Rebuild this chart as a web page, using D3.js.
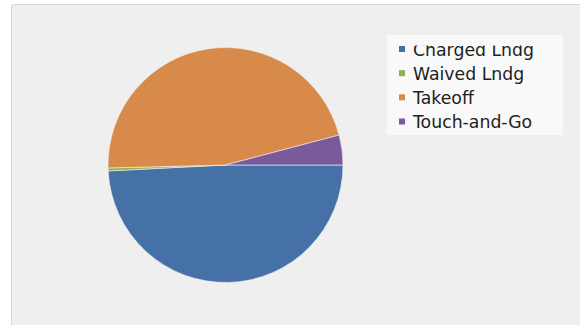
<!DOCTYPE html>
<html>
<head>
<meta charset="utf-8">
<script src="https://cdn.jsdelivr.net/npm/d3@7"></script>
<style>
  body { margin: 0; background: #fff; }
  svg { display: block; }
</style>
</head>
<body>
<svg id="chart" width="580" height="325"></svg>
<script>
const categories = ["Charged Lndg", "Waived Lndg", "Takeoff", "Touch-and-Go"];
const values = [49.2, 0.4, 46.3, 4.1];
const colors = ["#4571a7", "#8fb14c", "#d78a4a", "#7a5a9b"];

const svg = d3.select("#chart");

// panel
svg.append("rect")
  .attr("x", 11.5).attr("y", 4.5)
  .attr("width", 580).attr("height", 340)
  .attr("rx", 2)
  .attr("fill", "#efefef")
  .attr("stroke", "#d6d6d6");

const cx = 225.5, cy = 165, radius = 117.5;

const pie = d3.pie()
  .sort(null)
  .startAngle(Math.PI / 2)
  .endAngle(Math.PI / 2 + 2 * Math.PI);

const arc = d3.arc().innerRadius(0).outerRadius(radius);

const data = categories.map((c, i) => ({ name: c, value: values[i], color: colors[i] }));

svg.append("g")
  .attr("transform", `translate(${cx},${cy})`)
  .selectAll("path")
  .data(pie.value(d => d.value)(data))
  .enter()
  .append("path")
  .attr("d", arc)
  .attr("fill", d => d.data.color)
  .attr("stroke", "#f4f4f4")
  .attr("stroke-width", 0.6);

// legend
svg.append("rect")
  .attr("x", 387).attr("y", 35)
  .attr("width", 176).attr("height", 100)
  .attr("fill", "#f9f9f9");

// top row of the legend is cut off in the original
svg.append("clipPath").attr("id", "legclip")
  .append("rect").attr("x", 387).attr("y", 45.5).attr("width", 176).attr("height", 89.5);

const legend = svg.append("g").attr("clip-path", "url(#legclip)");
const rowY = d3.scalePoint().domain(categories).range([49, 121.5]);

const item = legend.selectAll("g.item")
  .data(data)
  .enter()
  .append("g")
  .attr("class", "item")
  .attr("transform", d => `translate(0,${rowY(d.name)})`);

item.append("rect")
  .attr("x", 399).attr("y", -3)
  .attr("width", 6).attr("height", 6)
  .attr("fill", d => d.color);

item.append("text")
  .attr("x", 413).attr("y", 6.5)
  .attr("font-family", "DejaVu Sans, Verdana, sans-serif")
  .attr("font-size", 17.3)
  .attr("fill", "#222")
  .text(d => d.name);
</script>
</body>
</html>
